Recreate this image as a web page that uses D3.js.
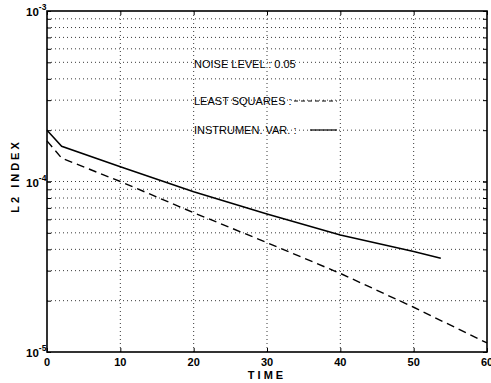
<!DOCTYPE html>
<html>
<head>
<meta charset="utf-8">
<script src="https://cdn.jsdelivr.net/npm/d3@7"></script>
<style>
  html, body { margin: 0; padding: 0; background: #fff; }
  svg { display: block; }
  text { font-family: "Liberation Sans", Arial, Helvetica, sans-serif; fill: #000; }
</style>
</head>
<body>
<svg id="chart" width="491" height="383"></svg>
<script>
// L2 index over time for two estimators, noise level 0.05
const lsTime = [0, 2, 10, 20, 30, 40, 50, 60];
const lsIndex = [1.73e-4, 1.37e-4, 1.0e-4, 6.56e-5, 4.38e-5, 2.89e-5, 1.83e-5, 1.13e-5];

const ivTime = [0, 2, 10, 20, 30, 40, 50, 53.7];
const ivIndex = [2.0e-4, 1.61e-4, 1.22e-4, 8.71e-5, 6.45e-5, 4.86e-5, 3.88e-5, 3.55e-5];

const xTicks = [0, 10, 20, 30, 40, 50, 60];
const yDecades = [1e-5, 1e-4, 1e-3];
const yDecadeExp = ["-5", "-4", "-3"];

const legendLines = ["NOISE LEVEL : 0.05", "LEAST SQUARES :", "INSTRUMEN. VAR. :"];

const svg = d3.select("#chart");
const plotL = 47, plotR = 487, plotT = 11, plotB = 352;

const x = d3.scaleLinear().domain([0, 60]).range([plotL, plotR]);
const y = d3.scaleLog().domain([1e-5, 1e-3]).range([plotB, plotT]);

// minor log positions: 2..9 within each decade, plus the inner decade
const minorY = [];
[1e-5, 1e-4].forEach(d => { for (let k = 2; k <= 9; k++) minorY.push(d * k); });
minorY.push(1e-4);

const grid = svg.append("g")
  .attr("stroke", "#222")
  .attr("stroke-width", 0.9)
  .attr("stroke-dasharray", "1,3");

grid.selectAll("line.h").data(minorY).join("line")
  .attr("x1", plotL).attr("x2", plotR)
  .attr("y1", d => y(d)).attr("y2", d => y(d));

grid.selectAll("line.v").data(xTicks.slice(1, -1)).join("line")
  .attr("y1", plotT).attr("y2", plotB)
  .attr("x1", d => x(d)).attr("x2", d => x(d));

// axes with inward ticks
const xAxis = d3.axisBottom(x).tickValues(xTicks).tickSize(-4).tickFormat("");
const xAxisTop = d3.axisTop(x).tickValues(xTicks).tickSize(-4).tickFormat("");
const yAxis = d3.axisLeft(y).tickValues(minorY.concat(yDecades)).tickSize(-4).tickFormat("");
const yAxisRight = d3.axisRight(y).tickValues(minorY.concat(yDecades)).tickSize(-4).tickFormat("");

[
  svg.append("g").attr("transform", `translate(0,${plotB})`).call(xAxis),
  svg.append("g").attr("transform", `translate(0,${plotT})`).call(xAxisTop),
  svg.append("g").attr("transform", `translate(${plotL},0)`).call(yAxis),
  svg.append("g").attr("transform", `translate(${plotR},0)`).call(yAxisRight)
].forEach(g => {
  g.select(".domain").remove();
  g.selectAll(".tick line").attr("stroke", "#000").attr("stroke-width", 1);
});

// frame
svg.append("rect")
  .attr("x", plotL).attr("y", plotT)
  .attr("width", plotR - plotL).attr("height", plotB - plotT)
  .attr("fill", "none").attr("stroke", "#000").attr("stroke-width", 1.6);

// x tick labels
svg.append("g").selectAll("text").data(xTicks).join("text")
  .attr("x", d => x(d)).attr("y", 366)
  .attr("text-anchor", "middle")
  .attr("font-size", 11).attr("font-weight", "bold")
  .text(d => d);

// y decade labels
const yl = svg.append("g").selectAll("text").data(yDecades).join("text")
  .attr("x", 26).attr("y", d => y(d) + 5)
  .attr("font-size", 11.5).attr("font-weight", "bold");
yl.append("tspan").text("10");
yl.append("tspan").attr("dy", -6).attr("font-size", 8.5).text((d, i) => yDecadeExp[i]);

// axis titles
svg.append("text")
  .attr("x", x(30)).attr("y", 379)
  .attr("text-anchor", "middle")
  .attr("font-size", 11).attr("font-weight", "bold")
  .attr("letter-spacing", 3)
  .text("TIME");

svg.append("text")
  .attr("transform", "translate(19,176) rotate(-90)")
  .attr("text-anchor", "middle")
  .attr("font-size", 11).attr("font-weight", "bold")
  .attr("letter-spacing", 3)
  .text("L2 INDEX");

// curves
const line = d3.line().x(d => x(d[0])).y(d => y(d[1]));

svg.append("path")
  .datum(lsTime.map((t, i) => [t, lsIndex[i]]))
  .attr("d", line)
  .attr("fill", "none").attr("stroke", "#000")
  .attr("stroke-width", 1.4).attr("stroke-dasharray", "8,5");

svg.append("path")
  .datum(ivTime.map((t, i) => [t, ivIndex[i]]))
  .attr("d", line)
  .attr("fill", "none").attr("stroke", "#000")
  .attr("stroke-width", 1.5);

// legend
const leg = svg.append("g");
const legY = [68, 105, 134];
leg.selectAll("text").data(legendLines).join("text")
  .attr("x", 194).attr("y", (d, i) => legY[i])
  .attr("font-size", 11)
  .text(d => d);

leg.append("line")
  .attr("x1", 294).attr("x2", 337).attr("y1", 101).attr("y2", 101)
  .attr("stroke", "#000").attr("stroke-width", 1).attr("stroke-dasharray", "4,3");
leg.append("line")
  .attr("x1", 310).attr("x2", 337).attr("y1", 130).attr("y2", 130)
  .attr("stroke", "#000").attr("stroke-width", 1.2);
</script>
</body>
</html>
